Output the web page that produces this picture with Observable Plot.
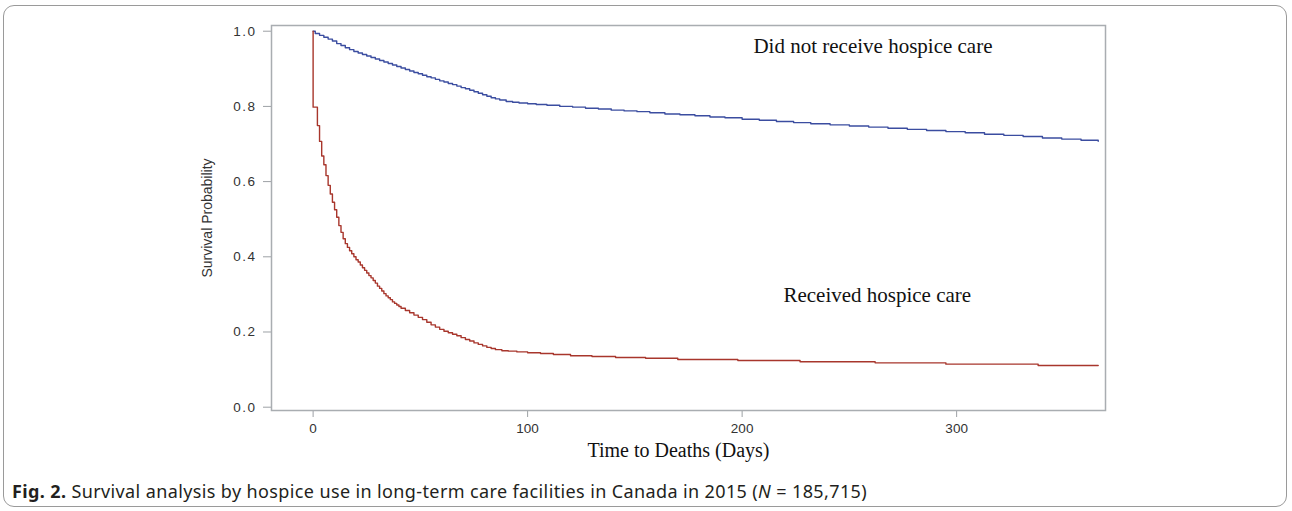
<!DOCTYPE html>
<html>
<head>
<meta charset="utf-8">
<script src="https://cdn.jsdelivr.net/npm/d3@7"></script>
<script src="https://cdn.jsdelivr.net/npm/@observablehq/plot@0.6"></script>
<style>
  html, body { margin: 0; padding: 0; background: #fff; }
  #wrap { position: relative; width: 1292px; height: 511px; overflow: hidden; }
  #border { position: absolute; left: 3px; top: 5px; width: 1284px; height: 502px;
            border: 1.5px solid #9a9a9a; border-radius: 11px; box-sizing: border-box; }
  #chart { position: absolute; left: 0; top: 0; }
  #caption { position: absolute; left: 12px; top: 479px; font-family: "Noto Sans", sans-serif;
             font-size: 18px; color: #231f20; white-space: nowrap; letter-spacing: 0.38px; }
  #chart svg g[aria-label="y-axis tick"] path,
  #chart svg g[aria-label="x-axis tick"] path,
  #chart svg .tick line { stroke: #9da1a5; }
  #chart svg g[aria-label="y-axis tick label"] text { letter-spacing: 1.5px; }
</style>
</head>
<body>
<div id="wrap">
  <div id="border"></div>
  <div id="chart"></div>
  <div id="caption"><b>Fig. 2.</b> Survival analysis by hospice use in long-term care facilities in Canada in 2015 (<i>N</i> = 185,715)</div>
</div>
<script>
// Kaplan–Meier estimates (days, survival probability)
const noHospiceDays = [0,1,3,5,7,9,11,13,15,17,19,21,23,25,27,29,31,33,35,37,39,41,43,45,47,49,51,53,55,57,59,61,63,65,67,69,71,73,75,77,79,81,83,85,87,90,93,96,100,104,109,115,121,127,133,139,145,151,157,164,171,178,185,192,200,208,216,224,232,241,250,259,268,277,286,295,304,313,322,331,340,349,358,366];
const noHospiceSurv = [1.0,0.994,0.989,0.984,0.979,0.974,0.967,0.962,0.956,0.951,0.946,0.942,0.938,0.934,0.930,0.926,0.922,0.918,0.914,0.910,0.906,0.902,0.898,0.894,0.890,0.887,0.883,0.879,0.876,0.872,0.868,0.865,0.861,0.858,0.854,0.850,0.847,0.843,0.839,0.835,0.831,0.827,0.823,0.820,0.817,0.813,0.811,0.809,0.807,0.805,0.803,0.800,0.798,0.795,0.793,0.790,0.788,0.786,0.783,0.780,0.778,0.775,0.772,0.770,0.766,0.763,0.760,0.757,0.754,0.751,0.748,0.745,0.742,0.739,0.736,0.733,0.730,0.726,0.723,0.720,0.716,0.713,0.710,0.7075];

const hospiceDays = [0,0,2,3,4,5,6,7,8,9,10,11,12,13,14,15,16,17,18,19,20,21,22,23,24,25,26,27,28,29,30,31,32,33,34,35,36,37,38,39,40,41,43,45,47,49,51,53,55,57,59,61,63,65,67,69,71,73,75,77,79,81,83,85,88,91,95,100,106,112,120,130,141,155,170,198,227,262,295,338,366];
const hospiceSurv = [1.0,0.798,0.749,0.707,0.668,0.645,0.616,0.590,0.567,0.545,0.525,0.505,0.483,0.465,0.448,0.435,0.425,0.416,0.408,0.400,0.392,0.386,0.378,0.371,0.364,0.357,0.350,0.344,0.337,0.330,0.322,0.316,0.309,0.302,0.296,0.291,0.286,0.280,0.276,0.272,0.268,0.263,0.257,0.251,0.245,0.239,0.233,0.226,0.219,0.213,0.207,0.202,0.198,0.194,0.190,0.185,0.180,0.176,0.171,0.167,0.163,0.159,0.156,0.153,0.150,0.149,0.147,0.145,0.143,0.140,0.137,0.135,0.132,0.130,0.127,0.124,0.121,0.118,0.1145,0.111,0.111];

const xTicks = [0, 100, 200, 300];
const yTicks = [0.0, 0.2, 0.4, 0.6, 0.8, 1.0];

const groupNames = ["Did not receive hospice care", "Received hospice care"];
const groupColors = ["#3b4da0", "#a8362c"];
const labelDays = [261, 263];
const labelSurv = [0.959, 0.298];

const noHospice = noHospiceDays.map((d, i) => ({day: d, surv: noHospiceSurv[i]}));
const hospice = hospiceDays.map((d, i) => ({day: d, surv: hospiceSurv[i]}));
const labels = groupNames.map((n, i) => ({name: n, day: labelDays[i], surv: labelSurv[i]}));

const chart = Plot.plot({
  width: 1292,
  height: 470,
  marginLeft: 271,
  marginRight: 187,
  marginTop: 25,
  marginBottom: 60,
  style: {fontFamily: "'Liberation Sans', Arial, sans-serif", fontSize: "13.5px", color: "#333", background: "transparent", overflow: "visible"},
  x: {domain: [-19.4, 369.4], ticks: xTicks, tickSize: 7, tickPadding: 6, label: null, tickFormat: d3.format("d")},
  y: {domain: [-0.0088, 1.0152], ticks: yTicks, tickSize: 8, tickPadding: 7, label: null, tickFormat: d3.format(".1f")},
  marks: [
    Plot.line(noHospice, {x: "day", y: "surv", curve: "step-after", stroke: groupColors[0], strokeWidth: 1.4}),
    Plot.line(hospice, {x: "day", y: "surv", curve: "step-after", stroke: groupColors[1], strokeWidth: 1.4}),
    Plot.frame({stroke: "#a9adb1", strokeWidth: 1.5}),
    Plot.text(labels, {x: "day", y: "surv", text: "name", textAnchor: "middle", lineAnchor: "middle",
      fontFamily: "'Liberation Serif', 'Times New Roman', serif", fontSize: 21, fill: "#111"}),
    Plot.text(["Time to Deaths (Days)"], {frameAnchor: "bottom", dx: -10, dy: 40, textAnchor: "middle", lineAnchor: "middle",
      fontFamily: "'Liberation Serif', 'Times New Roman', serif", fontSize: 20, fill: "#111"}),
    Plot.text(["Survival Probability"], {frameAnchor: "left", dx: -64, rotate: -90, textAnchor: "middle", lineAnchor: "middle",
      fontFamily: "'Liberation Sans Narrow', 'Arial Narrow', sans-serif", fontSize: 14, fill: "#333"})
  ]
});
document.getElementById("chart").appendChild(chart);
</script>
</body>
</html>
